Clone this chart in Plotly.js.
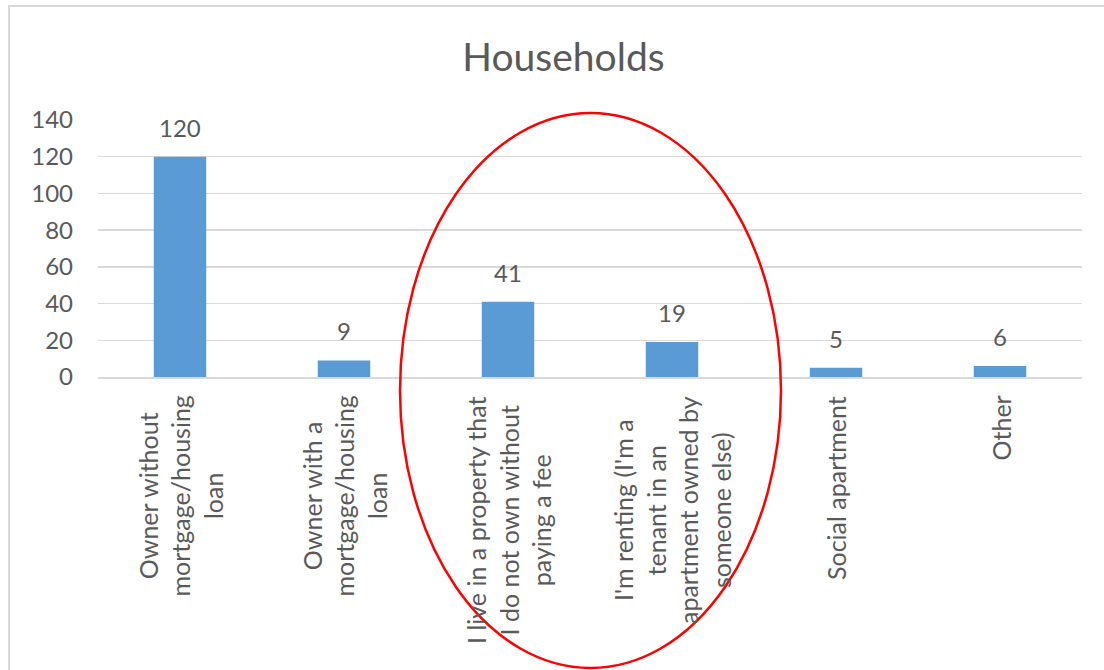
<!DOCTYPE html>
<html>
<head>
<meta charset="utf-8">
<script src="https://cdn.plot.ly/plotly-3.0.1.min.js"></script>
<style>
  html, body { margin: 0; padding: 0; background: #fff; }
  #chart { width: 1104px; height: 670px; }
</style>
</head>
<body>
<div id="chart"></div>
<script>
const categories = [
  "Owner without<br>mortgage/housing<br>loan",
  "Owner with a<br>mortgage/housing<br>loan",
  "I live in a property that<br>I do not own without<br>paying a fee",
  "I'm renting (I'm a<br>tenant in an<br>apartment owned by<br>someone else)",
  "Social apartment",
  "Other"
];
const values = [120, 9, 41, 19, 5, 6];
const yTicks = [0, 20, 40, 60, 80, 100, 120, 140];
const chartTitle = "Households";

const FONT = "Lato, 'Liberation Sans', sans-serif";
const GREY = "#595959";

const trace = {
  type: "bar",
  x: categories,
  y: values,
  marker: { color: "#5B9BD5" },
  hoverinfo: "x+y"
};

const annotations = [];
categories.forEach((c, i) => {
  annotations.push({
    x: c, y: values[i], xref: "x", yref: "y",
    text: String(values[i]), showarrow: false,
    xanchor: "center", yanchor: "bottom", yshift: 13,
    font: { family: FONT, size: 24, color: GREY }
  });
  annotations.push({
    x: c, y: 0, xref: "x", yref: "paper",
    text: c, showarrow: false, textangle: -90, align: "center",
    xanchor: "center", yanchor: "top", yshift: -17,
    font: { family: FONT, size: 25, color: GREY }
  });
});

const layout = {
  width: 1104, height: 670,
  margin: { l: 98, r: 22, t: 120, b: 293, pad: 0 },
  paper_bgcolor: "#ffffff", plot_bgcolor: "#ffffff",
  showlegend: false,
  bargap: 0.68,
  title: {
    text: chartTitle, x: 0.5104, xanchor: "center", y: 0.915, yanchor: "middle",
    font: { family: FONT, size: 39, color: GREY }
  },
  xaxis: {
    type: "category", showticklabels: false, showgrid: false,
    showline: true, linecolor: "#D9D9D9", linewidth: 2, ticks: "", zeroline: false
  },
  yaxis: {
    range: [0, 140], tickvals: yTicks, ticktext: yTicks.map(String),
    showgrid: true, gridcolor: "#D9D9D9", gridwidth: 1.5,
    zeroline: false, showline: false, ticks: "",
    ticklabelstandoff: 24,
    tickfont: { family: FONT, size: 24, color: GREY }
  },
  annotations: annotations,
  shapes: [
    { type: "rect", xref: "paper", yref: "paper",
      x0: (9 - 98) / 984, x1: (1120 - 98) / 984,
      y0: (293 - 690) / 257, y1: (377 - 6) / 257,
      line: { color: "#D9D9D9", width: 2 }, fillcolor: "rgba(0,0,0,0)", layer: "below" },
    { type: "circle", xref: "paper", yref: "paper",
      x0: (400 - 98) / 984, x1: (781 - 98) / 984,
      y0: (377 - 668) / 257, y1: (377 - 113) / 257,
      line: { color: "#FF0000", width: 2.5 }, fillcolor: "rgba(0,0,0,0)", layer: "above" }
  ]
};

Plotly.newPlot("chart", [trace], layout, { displayModeBar: false, staticPlot: true });
</script>
</body>
</html>
